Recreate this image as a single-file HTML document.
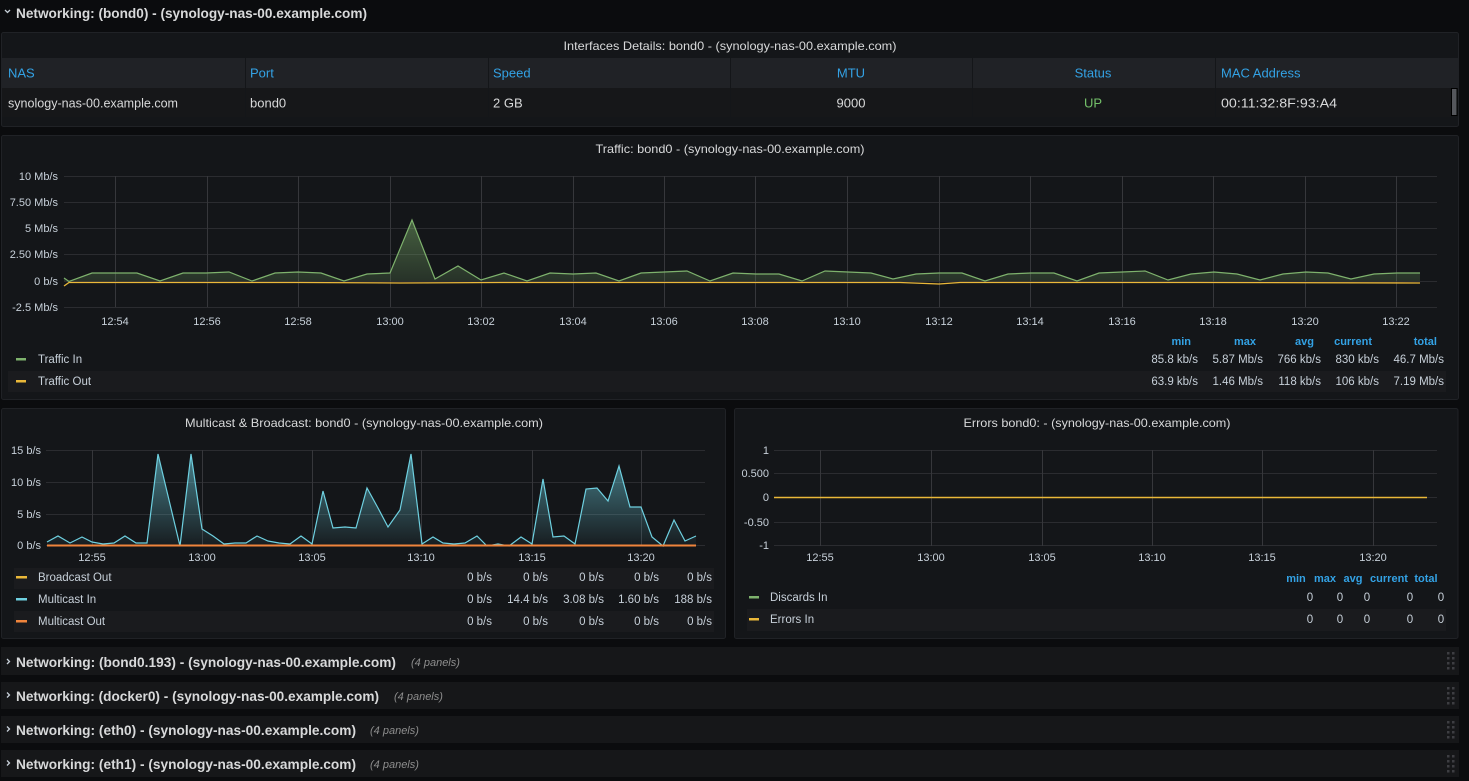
<!DOCTYPE html>
<html><head><meta charset="utf-8"><style>
html,body{margin:0;padding:0;background:#0b0c0e;width:1469px;height:781px;overflow:hidden}
svg{display:block}
text{font-family:"Liberation Sans",sans-serif;transform:translateY(1px)}
</style></head><body>
<svg width="1469" height="781" viewBox="0 0 1469 781" xmlns="http://www.w3.org/2000/svg">
<defs>
<linearGradient id="gIn" gradientUnits="userSpaceOnUse" x1="0" y1="215" x2="0" y2="281">
<stop offset="0" stop-color="#7eb26d" stop-opacity="0.5"/><stop offset="1" stop-color="#7eb26d" stop-opacity="0.18"/></linearGradient>
<linearGradient id="gMc" gradientUnits="userSpaceOnUse" x1="0" y1="450" x2="0" y2="545">
<stop offset="0" stop-color="#6ed0e0" stop-opacity="0.6"/><stop offset="1" stop-color="#6ed0e0" stop-opacity="0.04"/></linearGradient>
</defs>
<rect width="1469" height="781" fill="#0b0c0e"/>

<!-- top row header -->
<polyline points="5,10 7.5,12.5 10,10" fill="none" stroke="#c7d0d9" stroke-width="1.3"/>
<text x="16" y="12" dominant-baseline="central" font-size="14" font-weight="bold" fill="#d8d9da" textLength="351" lengthAdjust="spacingAndGlyphs">Networking: (bond0) - (synology-nas-00.example.com)</text>

<!-- table panel -->
<rect x="1.5" y="32.5" width="1457" height="94" rx="2" fill="#141619" stroke="#202226"/>
<text x="730" y="45" dominant-baseline="central" text-anchor="middle" font-size="12" fill="#d8d9da" textLength="333" lengthAdjust="spacingAndGlyphs">Interfaces Details: bond0 - (synology-nas-00.example.com)</text>
<rect x="2" y="58" width="1456" height="30" fill="#202226"/>
<rect x="2" y="88" width="1449" height="29" fill="#161719"/>
<g stroke="#141619" stroke-width="1">
<line x1="245.5" y1="58" x2="245.5" y2="117"/><line x1="488.5" y1="58" x2="488.5" y2="117"/><line x1="730.5" y1="58" x2="730.5" y2="117"/><line x1="972.5" y1="58" x2="972.5" y2="117"/><line x1="1215.5" y1="58" x2="1215.5" y2="117"/>
</g>
<g font-size="13" fill="#33a2e5" dominant-baseline="central">
<text x="8" y="72">NAS</text><text x="250" y="72">Port</text><text x="493" y="72">Speed</text>
<text x="851" y="72" text-anchor="middle">MTU</text><text x="1093" y="72" text-anchor="middle">Status</text><text x="1221" y="72">MAC Address</text>
</g>
<g font-size="13" fill="#d8d9da" dominant-baseline="central">
<text x="8" y="102" textLength="170" lengthAdjust="spacingAndGlyphs">synology-nas-00.example.com</text><text x="250" y="102">bond0</text><text x="493" y="102">2 GB</text>
<text x="851" y="102" text-anchor="middle">9000</text><text x="1093" y="102" text-anchor="middle" fill="#73bf69">UP</text><text x="1221" y="102" textLength="116" lengthAdjust="spacingAndGlyphs">00:11:32:8F:93:A4</text>
</g>
<rect x="1451.5" y="88.5" width="5.5" height="27" fill="#55575c" stroke="#000"/>

<!-- traffic panel -->
<rect x="1.5" y="135.5" width="1457" height="264" rx="2" fill="#141619" stroke="#202226"/>
<text x="730" y="148" dominant-baseline="central" text-anchor="middle" font-size="12" fill="#d8d9da" textLength="269" lengthAdjust="spacingAndGlyphs">Traffic: bond0 - (synology-nas-00.example.com)</text>
<g stroke="#2b2c30" stroke-width="1">
<line x1="64" y1="176.5" x2="1437" y2="176.5"/><line x1="64" y1="202.5" x2="1437" y2="202.5"/><line x1="64" y1="228.5" x2="1437" y2="228.5"/><line x1="64" y1="254.5" x2="1437" y2="254.5"/><line x1="64" y1="281.5" x2="1437" y2="281.5"/><line x1="64" y1="307.5" x2="1437" y2="307.5"/>
</g>
<g stroke="#36373b" stroke-width="1">
<line x1="115.5" y1="176" x2="115.5" y2="307"/><line x1="207.5" y1="176" x2="207.5" y2="307"/><line x1="298.5" y1="176" x2="298.5" y2="307"/><line x1="390.5" y1="176" x2="390.5" y2="307"/><line x1="481.5" y1="176" x2="481.5" y2="307"/><line x1="573.5" y1="176" x2="573.5" y2="307"/><line x1="664.5" y1="176" x2="664.5" y2="307"/><line x1="755.5" y1="176" x2="755.5" y2="307"/><line x1="847.5" y1="176" x2="847.5" y2="307"/><line x1="939.5" y1="176" x2="939.5" y2="307"/><line x1="1030.5" y1="176" x2="1030.5" y2="307"/><line x1="1122.5" y1="176" x2="1122.5" y2="307"/><line x1="1213.5" y1="176" x2="1213.5" y2="307"/><line x1="1305.5" y1="176" x2="1305.5" y2="307"/><line x1="1396.5" y1="176" x2="1396.5" y2="307"/>
</g>
<g font-size="11" fill="#c7d0d9" dominant-baseline="central" text-anchor="end">
<text x="58" y="176">10 Mb/s</text><text x="58" y="202">7.50 Mb/s</text><text x="58" y="228">5 Mb/s</text><text x="58" y="254">2.50 Mb/s</text><text x="58" y="281">0 b/s</text><text x="58" y="307">-2.5 Mb/s</text>
</g>
<g font-size="11" fill="#c7d0d9" dominant-baseline="central" text-anchor="middle">
<text x="115" y="321">12:54</text><text x="207" y="321">12:56</text><text x="298" y="321">12:58</text><text x="390" y="321">13:00</text><text x="481" y="321">13:02</text><text x="573" y="321">13:04</text><text x="664" y="321">13:06</text><text x="755" y="321">13:08</text><text x="847" y="321">13:10</text><text x="939" y="321">13:12</text><text x="1030" y="321">13:14</text><text x="1122" y="321">13:16</text><text x="1213" y="321">13:18</text><text x="1305" y="321">13:20</text><text x="1396" y="321">13:22</text>
</g>
<path d="M64,281 L64,278 L69,281.5 L92,273 L115,273 L137,273 L160,281 L183,273 L206,273 L229,272 L252,281 L275,273 L298,272 L321,273 L344,281 L367,274 L390,273 L412,220 L435,279 L458,266 L481,280 L504,273 L527,281 L550,273 L573,274 L596,273 L619,281 L641,273 L664,272 L687,271 L710,281 L733,273 L756,274 L779,274 L802,281 L825,271 L848,272 L871,273 L893,279 L916,274 L939,273 L962,273 L985,281 L1008,274 L1031,273 L1054,273 L1077,281 L1099,273 L1122,272 L1145,271 L1168,280 L1191,274 L1214,272 L1237,274 L1260,280 L1283,274 L1306,272 L1328,273 L1351,279 L1374,274 L1397,273 L1420,273 L1420,281 Z" fill="url(#gIn)"/>
<polyline points="64,278 69,281.5 92,273 115,273 137,273 160,281 183,273 206,273 229,272 252,281 275,273 298,272 321,273 344,281 367,274 390,273 412,220 435,279 458,266 481,280 504,273 527,281 550,273 573,274 596,273 619,281 641,273 664,272 687,271 710,281 733,273 756,274 779,274 802,281 825,271 848,272 871,273 893,279 916,274 939,273 962,273 985,281 1008,274 1031,273 1054,273 1077,281 1099,273 1122,272 1145,271 1168,280 1191,274 1214,272 1237,274 1260,280 1283,274 1306,272 1328,273 1351,279 1374,274 1397,273 1420,273" fill="none" stroke="#7eb26d" stroke-width="1.2"/>
<polyline points="64,286 69,282.5 300,282.5 400,283 500,282.5 700,282.5 900,282.5 939,284 960,282.5 1200,282.5 1420,283" fill="none" stroke="#eab839" stroke-width="1.3"/>
<!-- traffic legend -->
<rect x="8" y="371" width="1438" height="21" fill="#1a1b1e"/>
<g font-size="11" font-weight="bold" fill="#33a2e5" dominant-baseline="central" text-anchor="end">
<text x="1191" y="341">min</text><text x="1256" y="341">max</text><text x="1314" y="341">avg</text><text x="1372" y="341">current</text><text x="1437" y="341">total</text>
</g>
<rect x="16" y="358" width="10" height="2.5" fill="#7eb26d"/>
<rect x="16" y="380" width="10" height="2.5" fill="#eab839"/>
<g font-size="11.5" fill="#c7d0d9" dominant-baseline="central">
<text x="38" y="359">Traffic In</text><text x="38" y="381">Traffic Out</text>
</g>
<g font-size="11.5" fill="#c7d0d9" dominant-baseline="central" text-anchor="end">
<text x="1198" y="359">85.8 kb/s</text><text x="1263" y="359">5.87 Mb/s</text><text x="1321" y="359">766 kb/s</text><text x="1379" y="359">830 kb/s</text><text x="1444" y="359">46.7 Mb/s</text>
<text x="1198" y="381">63.9 kb/s</text><text x="1263" y="381">1.46 Mb/s</text><text x="1321" y="381">118 kb/s</text><text x="1379" y="381">106 kb/s</text><text x="1444" y="381">7.19 Mb/s</text>
</g>

<!-- multicast panel -->
<rect x="1.5" y="408.5" width="724" height="230" rx="2" fill="#141619" stroke="#202226"/>
<text x="364" y="422" dominant-baseline="central" text-anchor="middle" font-size="12" fill="#d8d9da" textLength="358" lengthAdjust="spacingAndGlyphs">Multicast &amp; Broadcast: bond0 - (synology-nas-00.example.com)</text>
<g stroke="#2b2c30"><line x1="46" y1="450.5" x2="705" y2="450.5"/><line x1="46" y1="482.5" x2="705" y2="482.5"/><line x1="46" y1="514.5" x2="705" y2="514.5"/><line x1="46" y1="545.5" x2="705" y2="545.5"/></g>
<g stroke="#36373b"><line x1="92.5" y1="450" x2="92.5" y2="546"/><line x1="202.5" y1="450" x2="202.5" y2="546"/><line x1="312.5" y1="450" x2="312.5" y2="546"/><line x1="421.5" y1="450" x2="421.5" y2="546"/><line x1="532.5" y1="450" x2="532.5" y2="546"/><line x1="641.5" y1="450" x2="641.5" y2="546"/></g>
<g font-size="11" fill="#c7d0d9" dominant-baseline="central" text-anchor="end">
<text x="41" y="450">15 b/s</text><text x="41" y="482">10 b/s</text><text x="41" y="514">5 b/s</text><text x="41" y="545">0 b/s</text>
</g>
<g font-size="11" fill="#c7d0d9" dominant-baseline="central" text-anchor="middle">
<text x="92" y="557">12:55</text><text x="202" y="557">13:00</text><text x="312" y="557">13:05</text><text x="421" y="557">13:10</text><text x="532" y="557">13:15</text><text x="641" y="557">13:20</text>
</g>
<path d="M47,545 L47,542 L58,536 L70,543 L82,537 L92,542 L103,544 L114,543 L125,536 L136,543 L147,543 L158,454 L169,500 L180,546 L191,454 L202,529 L213,536 L224,544 L235,543 L246,543 L257,536 L268,541 L279,543 L290,544 L301,536 L312,544 L323,491 L333,528 L345,527 L356,528 L367,488 L378,508 L388,527 L400,510 L411,454 L422,544 L433,537 L443,543 L454,544 L465,543 L477,536 L487,546 L498,544 L509,546 L521,537 L532,544 L543,479 L553,537 L564,536 L575,544 L586,489 L597,488 L608,501 L619,466 L630,507 L641,507 L652,537 L663,546 L674,520 L685,541 L696,536 L696,545 Z" fill="url(#gMc)"/>
<polyline points="47,542 58,536 70,543 82,537 92,542 103,544 114,543 125,536 136,543 147,543 158,454 169,500 180,546 191,454 202,529 213,536 224,544 235,543 246,543 257,536 268,541 279,543 290,544 301,536 312,544 323,491 333,528 345,527 356,528 367,488 378,508 388,527 400,510 411,454 422,544 433,537 443,543 454,544 465,543 477,536 487,546 498,544 509,546 521,537 532,544 543,479 553,537 564,536 575,544 586,489 597,488 608,501 619,466 630,507 641,507 652,537 663,546 674,520 685,541 696,536" fill="none" stroke="#6ed0e0" stroke-width="1.2"/>
<line x1="47" y1="545.5" x2="696" y2="545.5" stroke="#ef843c" stroke-width="2"/>
<rect x="14" y="568" width="700" height="21" fill="#1a1b1e"/>
<rect x="14" y="611" width="700" height="21" fill="#1a1b1e"/>
<rect x="16" y="576" width="11" height="2.5" fill="#eab839"/>
<rect x="16" y="598" width="11" height="2.5" fill="#6ed0e0"/>
<rect x="16" y="620" width="11" height="2.5" fill="#ef843c"/>
<g font-size="11.5" fill="#c7d0d9" dominant-baseline="central">
<text x="38" y="577">Broadcast Out</text><text x="38" y="599">Multicast In</text><text x="38" y="621">Multicast Out</text>
</g>
<g font-size="11.5" fill="#c7d0d9" dominant-baseline="central" text-anchor="end">
<text x="492" y="577">0 b/s</text><text x="548" y="577">0 b/s</text><text x="604" y="577">0 b/s</text><text x="659" y="577">0 b/s</text><text x="712" y="577">0 b/s</text>
<text x="492" y="599">0 b/s</text><text x="548" y="599">14.4 b/s</text><text x="604" y="599">3.08 b/s</text><text x="659" y="599">1.60 b/s</text><text x="712" y="599">188 b/s</text>
<text x="492" y="621">0 b/s</text><text x="548" y="621">0 b/s</text><text x="604" y="621">0 b/s</text><text x="659" y="621">0 b/s</text><text x="712" y="621">0 b/s</text>
</g>

<!-- errors panel -->
<rect x="734.5" y="408.5" width="723.5" height="230" rx="2" fill="#141619" stroke="#202226"/>
<text x="1097" y="422" dominant-baseline="central" text-anchor="middle" font-size="12" fill="#d8d9da" textLength="267" lengthAdjust="spacingAndGlyphs">Errors bond0: - (synology-nas-00.example.com)</text>
<g stroke="#2b2c30"><line x1="774" y1="450.5" x2="1437" y2="450.5"/><line x1="774" y1="473.5" x2="1437" y2="473.5"/><line x1="774" y1="497.5" x2="1437" y2="497.5"/><line x1="774" y1="522.5" x2="1437" y2="522.5"/><line x1="774" y1="545.5" x2="1437" y2="545.5"/></g>
<g stroke="#36373b"><line x1="820.5" y1="450" x2="820.5" y2="546"/><line x1="931.5" y1="450" x2="931.5" y2="546"/><line x1="1042.5" y1="450" x2="1042.5" y2="546"/><line x1="1152.5" y1="450" x2="1152.5" y2="546"/><line x1="1262.5" y1="450" x2="1262.5" y2="546"/><line x1="1373.5" y1="450" x2="1373.5" y2="546"/></g>
<g font-size="11" fill="#c7d0d9" dominant-baseline="central" text-anchor="end">
<text x="769" y="450">1</text><text x="769" y="473">0.500</text><text x="769" y="497">0</text><text x="769" y="522">-0.50</text><text x="769" y="545">-1</text>
</g>
<g font-size="11" fill="#c7d0d9" dominant-baseline="central" text-anchor="middle">
<text x="820" y="557">12:55</text><text x="931" y="557">13:00</text><text x="1042" y="557">13:05</text><text x="1152" y="557">13:10</text><text x="1262" y="557">13:15</text><text x="1373" y="557">13:20</text>
</g>
<line x1="774" y1="497.5" x2="1427" y2="497.5" stroke="#eab839" stroke-width="1.5"/>
<rect x="747" y="609" width="699" height="22" fill="#1a1b1e"/>
<g font-size="11" font-weight="bold" fill="#33a2e5" dominant-baseline="central" text-anchor="middle">
<text x="1296" y="578">min</text><text x="1325" y="578">max</text><text x="1353" y="578">avg</text><text x="1389" y="578">current</text><text x="1426" y="578">total</text>
</g>
<rect x="749" y="596" width="10" height="2.5" fill="#7eb26d"/>
<rect x="749" y="618" width="10" height="2.5" fill="#eab839"/>
<g font-size="11.5" fill="#c7d0d9" dominant-baseline="central">
<text x="770" y="597">Discards In</text><text x="770" y="619">Errors In</text>
</g>
<g font-size="11.5" fill="#c7d0d9" dominant-baseline="central" text-anchor="middle">
<text x="1310" y="597">0</text><text x="1340" y="597">0</text><text x="1367" y="597">0</text><text x="1410" y="597">0</text><text x="1441" y="597">0</text>
<text x="1310" y="619">0</text><text x="1340" y="619">0</text><text x="1367" y="619">0</text><text x="1410" y="619">0</text><text x="1441" y="619">0</text>
</g>

<!-- collapsed rows -->
<g fill="#161719">
<rect x="1" y="647" width="1458" height="28"/><rect x="1" y="682" width="1458" height="27"/><rect x="1" y="716" width="1458" height="27"/><rect x="1" y="750" width="1458" height="27"/>
</g>
<g fill="none" stroke="#c7d0d9" stroke-width="1.3">
<polyline points="7,659 9.5,661.5 7,664"/><polyline points="7,692.5 9.5,695 7,697.5"/><polyline points="7,726.5 9.5,729 7,731.5"/><polyline points="7,760.5 9.5,763 7,765.5"/>
</g>
<g font-size="14" font-weight="bold" fill="#d8d9da" dominant-baseline="central">
<text x="16" y="661" textLength="380" lengthAdjust="spacingAndGlyphs">Networking: (bond0.193) - (synology-nas-00.example.com)</text>
<text x="16" y="695" textLength="363" lengthAdjust="spacingAndGlyphs">Networking: (docker0) - (synology-nas-00.example.com)</text>
<text x="16" y="729" textLength="340" lengthAdjust="spacingAndGlyphs">Networking: (eth0) - (synology-nas-00.example.com)</text>
<text x="16" y="763" textLength="340" lengthAdjust="spacingAndGlyphs">Networking: (eth1) - (synology-nas-00.example.com)</text>
</g>
<g font-size="11" font-style="italic" fill="#8e8e8e" dominant-baseline="central">
<text x="411" y="662">(4 panels)</text><text x="394" y="696">(4 panels)</text><text x="370" y="730">(4 panels)</text><text x="370" y="764">(4 panels)</text>
</g>
<g fill="#3d3e42">
<rect x="1447" y="652" width="2.5" height="2.5"/><rect x="1452" y="652" width="2.5" height="2.5"/><rect x="1447" y="657" width="2.5" height="2.5"/><rect x="1452" y="657" width="2.5" height="2.5"/><rect x="1447" y="662" width="2.5" height="2.5"/><rect x="1452" y="662" width="2.5" height="2.5"/><rect x="1447" y="667" width="2.5" height="2.5"/><rect x="1452" y="667" width="2.5" height="2.5"/>
<rect x="1447" y="687" width="2.5" height="2.5"/><rect x="1452" y="687" width="2.5" height="2.5"/><rect x="1447" y="692" width="2.5" height="2.5"/><rect x="1452" y="692" width="2.5" height="2.5"/><rect x="1447" y="697" width="2.5" height="2.5"/><rect x="1452" y="697" width="2.5" height="2.5"/><rect x="1447" y="702" width="2.5" height="2.5"/><rect x="1452" y="702" width="2.5" height="2.5"/>
<rect x="1447" y="721" width="2.5" height="2.5"/><rect x="1452" y="721" width="2.5" height="2.5"/><rect x="1447" y="726" width="2.5" height="2.5"/><rect x="1452" y="726" width="2.5" height="2.5"/><rect x="1447" y="731" width="2.5" height="2.5"/><rect x="1452" y="731" width="2.5" height="2.5"/><rect x="1447" y="736" width="2.5" height="2.5"/><rect x="1452" y="736" width="2.5" height="2.5"/>
<rect x="1447" y="755" width="2.5" height="2.5"/><rect x="1452" y="755" width="2.5" height="2.5"/><rect x="1447" y="760" width="2.5" height="2.5"/><rect x="1452" y="760" width="2.5" height="2.5"/><rect x="1447" y="765" width="2.5" height="2.5"/><rect x="1452" y="765" width="2.5" height="2.5"/><rect x="1447" y="770" width="2.5" height="2.5"/><rect x="1452" y="770" width="2.5" height="2.5"/>
</g>
</svg>
</body></html>
